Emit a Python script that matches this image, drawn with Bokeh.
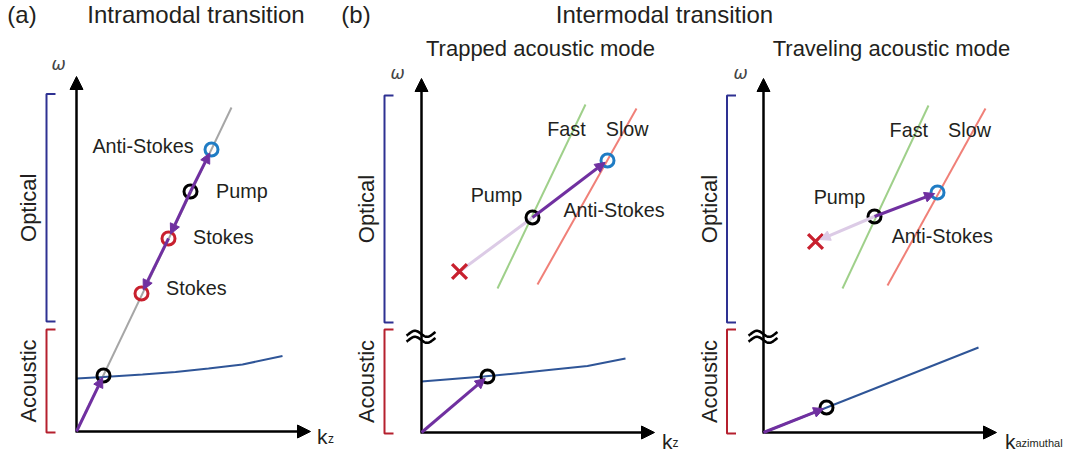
import numpy as np
from bokeh.plotting import figure
from bokeh.models import Range1d, Arrow, NormalHead
from bokeh.core.properties import value
from bokeh.embed import file_html
from bokeh.resources import INLINE

W, H = 1067, 452
FONT = value("Liberation Sans")

# ---------------- data (local dispersion coordinates: k to the right, omega upward) -------------
# Panel (a): intramodal transition
a_opt_k = [0, 155]
a_opt_w = [0, 324]
a_ac_k = [0, 27, 66, 99, 132, 166, 206]
a_ac_w = [53, 54.5, 57, 59.5, 63, 67, 75.5]
a_state_names = ["Acoustic", "Stokes", "Stokes", "Pump", "Anti-Stokes"]
a_state_k = [27, 65, 92, 114, 135]
a_state_w = [56, 138, 193, 240, 282]

# Panel (b) left: trapped acoustic mode
b1_fast_k = [76, 164]
b1_fast_w = [144, 328]
b1_slow_k = [116, 215]
b1_slow_w = [148, 324]
b1_ac_k = [0, 62, 99, 132, 166, 204]
b1_ac_w = [51, 56, 59.5, 63, 66.5, 74]
b1_pump = (111, 215)
b1_as = (186, 272)
b1_blocked = (38, 161)
b1_phonon = (66, 56)

# Panel (b) right: traveling acoustic mode
b2_fast_k = [79, 165]
b2_fast_w = [144, 327]
b2_slow_k = [124, 222]
b2_slow_w = [147, 324]
b2_ac_k = [0, 215]
b2_ac_w = [0, 85]
b2_pump = (111, 216)
b2_as = (174, 240)
b2_blocked = (52, 191)
b2_phonon = (63, 25)

# ---------------- styles ----------------
PURPLE = "#7030a0"
LPURPLE = "#dccbe6"
GRAY = "#a6a6a6"
ACBLUE = "#2f5597"
OPT_BR = "#2e3192"
AC_BR = "#b5202e"
RED = "#c8202e"
BLUE = "#1f7cc4"
GREEN = "#9fd08a"
SALMON = "#f08078"
TXT = "#231f20"

# panel origins (screen px, top-down)
ORG = {"a": (76, 431), "b1": (421, 432), "b2": (763, 432)}


def xy(panel, ks, ws):
    ox, oy = ORG[panel]
    return [ox + k for k in ks], [H - oy + w for w in ws]


def sy(y):
    return H - y


p = figure(width=W, height=H, x_range=Range1d(0, W), y_range=Range1d(0, H),
           toolbar_location=None, output_backend="svg", min_border=0,
           x_axis_location=None, y_axis_location=None, outline_line_color=None)
p.grid.visible = False
p.background_fill_color = "white"
p.border_fill_color = "white"


def txt(x, y, s, size, align="center", baseline="middle", angle=0, style="normal", font=FONT, color=TXT):
    p.text(x=[x], y=[sy(y)], text=[s], text_font=font, text_font_size=f"{size}px",
           text_align=align, text_baseline=baseline, angle=angle, text_font_style=style,
           text_color=color)


def arrow(panel, k0, w0, k1, w1, color, lw=3, size=10, shorten=4):
    (x0,), (y0,) = xy(panel, [k0], [w0])
    (x1,), (y1,) = xy(panel, [k1], [w1])
    d = np.hypot(x1 - x0, y1 - y0)
    x1s = x1 - (x1 - x0) / d * shorten
    y1s = y1 - (y1 - y0) / d * shorten
    p.add_layout(Arrow(end=NormalHead(size=size, fill_color=color, line_color=color, line_width=1),
                       x_start=x0, y_start=y0, x_end=x1s, y_end=y1s,
                       line_color=color, line_width=lw))


def axes(panel, ymax, xmax, br_x, opt=(110, 337), ac=(-1, 102)):
    p.add_layout(Arrow(end=NormalHead(size=13, fill_color="black", line_color="black", line_width=1),
                       x_start=ORG[panel][0], y_start=sy(ORG[panel][1]),
                       x_end=ORG[panel][0], y_end=sy(ORG[panel][1]) + ymax,
                       line_color="black", line_width=2.5))
    p.add_layout(Arrow(end=NormalHead(size=13, fill_color="black", line_color="black", line_width=1),
                       x_start=ORG[panel][0] - 1, y_start=sy(ORG[panel][1]),
                       x_end=ORG[panel][0] + xmax, y_end=sy(ORG[panel][1]),
                       line_color="black", line_width=2.5))
    for (lo, hi), c in ((opt, OPT_BR), (ac, AC_BR)):
        bx, by = xy(panel, [br_x + 9, br_x, br_x, br_x + 9], [hi, hi, lo, lo])
        p.line(bx, by, line_color=c, line_width=2)
    bxx = ORG[panel][0] + br_x - 18
    txt(bxx, sy(xy(panel, [0], [(opt[0] + opt[1]) / 2])[1][0]), "Optical", 22, angle=np.pi / 2)
    txt(bxx, sy(xy(panel, [0], [(ac[0] + ac[1]) / 2])[1][0]), "Acoustic", 22, angle=np.pi / 2)


OMEGA_FONT = value("DejaVu Sans")

# ---------------- titles ----------------
txt(21.5, 14, "(a)", 24)
txt(195.5, 14, "Intramodal transition", 24)
txt(355.5, 14, "(b)", 24)
txt(664, 14, "Intermodal transition", 24)
txt(540, 48, "Trapped acoustic mode", 22)
txt(891, 48, "Traveling acoustic mode", 22)

# ---------------- panel (a) ----------------
axes("a", 355, 234, -30, opt=(110, 337.5), ac=(-1, 102))
txt(58, 63, "ω", 17, style="italic", font=OMEGA_FONT, color="#444444")
txt(316.5, 436, "k", 21, align="left", baseline="alphabetic")
txt(327.5, 438, "z", 12, align="left", baseline="alphabetic")

x, y = xy("a", a_opt_k, a_opt_w)
p.line(x, y, line_color=GRAY, line_width=2)
x, y = xy("a", a_ac_k, a_ac_w)
p.line(x, y, line_color=ACBLUE, line_width=2)

arrow("a", 0, 0, a_state_k[0], a_state_w[0], PURPLE, shorten=2)
arrow("a", a_state_k[3], a_state_w[3], a_state_k[4], a_state_w[4], PURPLE)
arrow("a", a_state_k[3], a_state_w[3], a_state_k[2], a_state_w[2], PURPLE, shorten=5)
arrow("a", a_state_k[2], a_state_w[2], a_state_k[1], a_state_w[1], PURPLE)

a_colors = ["black", RED, RED, "black", BLUE]
x, y = xy("a", a_state_k, a_state_w)
p.scatter(x, y, marker="circle", size=13, fill_color=None, line_color=a_colors, line_width=3)

txt(142.5, 145.5, "Anti-Stokes", 19.8)
txt(241.3, 190, "Pump", 19.8)
txt(222.8, 236.7, "Stokes", 19.8)
txt(195.8, 287.3, "Stokes", 19.8)


# ---------------- panel (b) helpers ----------------
def wave_break(panel):
    ox, oy = ORG[panel]
    t = np.linspace(-0.1, 1.1, 40)
    xs = ox - 15 + 29 * (t + 0.1) / 1.2
    for yc in (333.3, 339.3):
        p.line(xs, sy(yc) + 3 * np.sin(2 * np.pi * t), line_color="black", line_width=2.6)


def b_panel(panel, fast_k, fast_w, slow_k, slow_w, ac_k, ac_w, pump, as_, blk, phon, head_blk, br_x):
    axes(panel, 354, 233, br_x, opt=(110, 337), ac=(-1, 103))
    wave_break(panel)
    x, y = xy(panel, fast_k, fast_w)
    p.line(x, y, line_color=GREEN, line_width=2)
    x, y = xy(panel, slow_k, slow_w)
    p.line(x, y, line_color=SALMON, line_width=2)
    x, y = xy(panel, ac_k, ac_w)
    p.line(x, y, line_color=ACBLUE, line_width=2)
    if head_blk:
        arrow(panel, pump[0], pump[1], blk[0], blk[1], LPURPLE, shorten=5)
    else:
        x, y = xy(panel, [pump[0], blk[0]], [pump[1], blk[1]])
        p.line(x, y, line_color=LPURPLE, line_width=3)
    arrow(panel, pump[0], pump[1], as_[0], as_[1], PURPLE, shorten=3)
    arrow(panel, 0, 0, phon[0], phon[1], PURPLE, shorten=3)
    x, y = xy(panel, [blk[0]], [blk[1]])
    p.scatter(x, y, marker="x", size=21, line_color=RED, line_width=3.3)
    x, y = xy(panel, [pump[0], as_[0], phon[0]], [pump[1], as_[1], phon[1]])
    p.scatter(x, y, marker="circle", size=13, fill_color=None,
              line_color=["black", BLUE, "black"], line_width=3)


# ---------------- panel (b) left ----------------
b_panel("b1", b1_fast_k, b1_fast_w, b1_slow_k, b1_slow_w, b1_ac_k, b1_ac_w,
        b1_pump, b1_as, b1_blocked, b1_phonon, False, -37)
txt(397, 72, "ω", 17, style="italic", font=OMEGA_FONT, color="#444444")
txt(661.5, 441, "k", 21, align="left", baseline="alphabetic")
txt(672, 442, "z", 12, align="left", baseline="alphabetic")
txt(566, 128.3, "Fast", 19.8)
txt(626.7, 128.3, "Slow", 19.8)
txt(496, 194.3, "Pump", 19.8)
txt(613.5, 209.5, "Anti-Stokes", 19.8)

# ---------------- panel (b) right ----------------
b_panel("b2", b2_fast_k, b2_fast_w, b2_slow_k, b2_slow_w, b2_ac_k, b2_ac_w,
        b2_pump, b2_as, b2_blocked, b2_phonon, True, -36.5)
txt(740, 72, "ω", 17, style="italic", font=OMEGA_FONT, color="#444444")
txt(1004.5, 441, "k", 21, align="left", baseline="alphabetic")
txt(1015, 442, "azimuthal", 11, align="left", baseline="alphabetic")
txt(908.3, 129.3, "Fast", 19.8)
txt(969, 129.3, "Slow", 19.8)
txt(839, 196.7, "Pump", 19.8)
txt(941.7, 235.7, "Anti-Stokes", 19.8)

open("out.html", "w").write(file_html(p, INLINE))
